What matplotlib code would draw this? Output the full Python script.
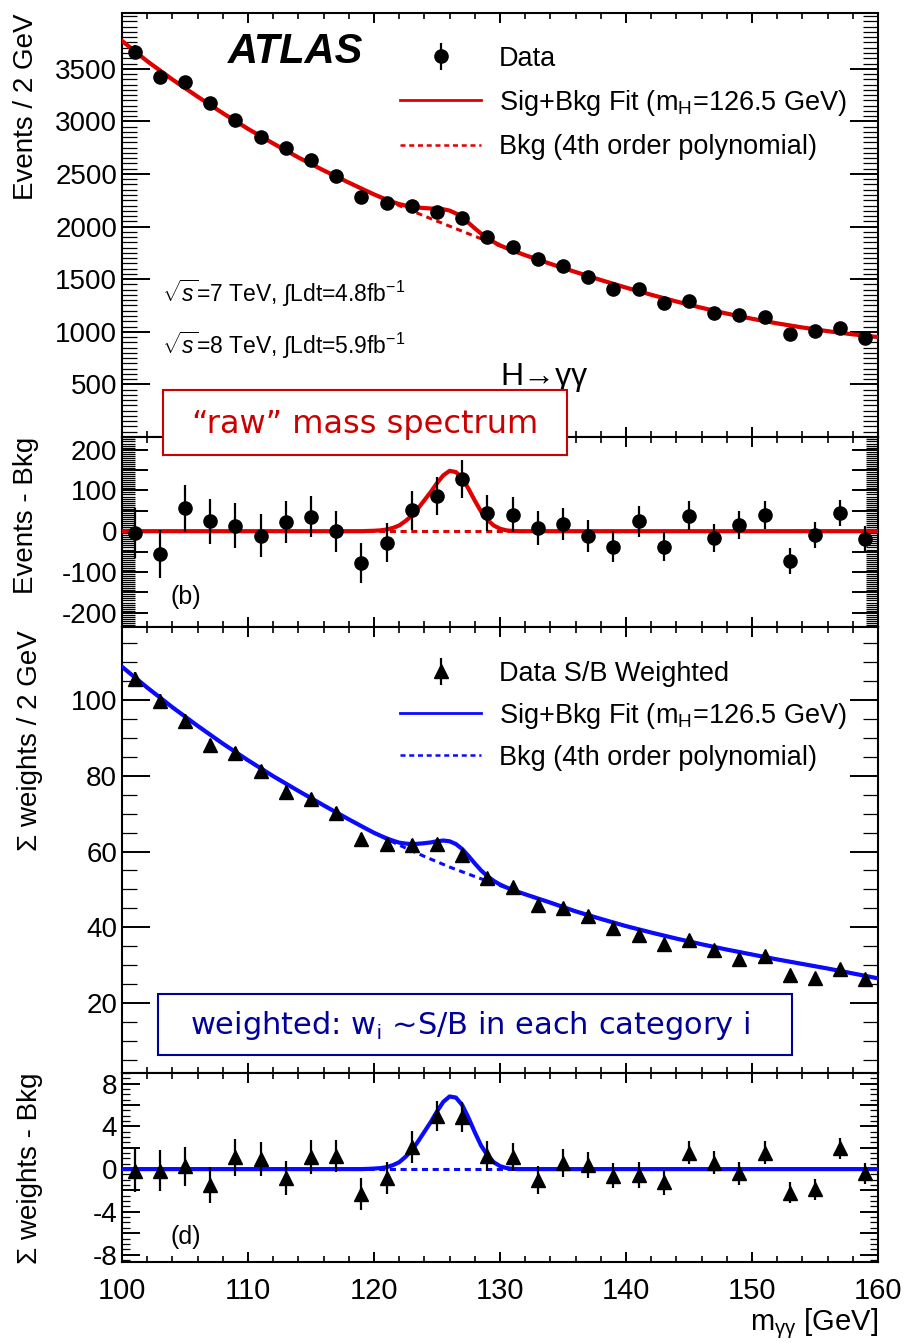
import numpy as np
import matplotlib
matplotlib.use('Agg')
import matplotlib.pyplot as plt
from matplotlib.lines import Line2D
from matplotlib.patches import Rectangle
from matplotlib.ticker import MultipleLocator, FixedLocator, FuncFormatter

plt.rcParams['font.family'] = ['Liberation Sans', 'DejaVu Sans']
plt.rcParams['mathtext.fontset'] = 'custom'
plt.rcParams['mathtext.rm'] = 'Liberation Sans'
plt.rcParams['mathtext.it'] = 'Liberation Sans:italic'
plt.rcParams['mathtext.bf'] = 'Liberation Sans:bold'
plt.rcParams['axes.unicode_minus'] = False

# ---- data ----
mass = [101, 103, 105, 107, 109, 111, 113, 115, 117, 119,
        121, 123, 125, 127, 129, 131, 133, 135, 137, 139,
        141, 143, 145, 147, 149, 151, 153, 155, 157, 159]

events = [3663, 3426, 3373, 3179, 3015, 2847, 2746, 2629, 2477, 2281,
          2224, 2199, 2139, 2082, 1902, 1807, 1693, 1623, 1518, 1408,
          1408, 1275, 1291, 1180, 1155, 1139, 975, 1006, 1038, 943]
events_err = [61, 59, 58, 56, 55, 53, 52, 51, 50, 48,
              47, 47, 46, 46, 44, 43, 41, 40, 39, 38,
              38, 36, 36, 34, 34, 34, 31, 32, 32, 31]
events_resid = [-5, -55, 56, 24, 13, -11, 23, 36, 0, -78,
                -28, 51, 86, 128, 44, 40, 8, 18, -11, -38,
                24, -38, 38, -16, 15, 40, -73, -10, 45, -18]

weighted = [105.5, 99.8, 94.5, 88.1, 85.9, 81.3, 75.8, 73.8, 70.2, 63.4,
            61.9, 61.7, 62.0, 59.0, 52.9, 50.5, 45.8, 45.2, 42.9, 39.7,
            37.9, 35.5, 36.6, 34.1, 31.7, 32.3, 27.3, 26.6, 29.1, 26.3]
weighted_err = [2.0, 1.9, 1.8, 1.7, 1.7, 1.6, 1.6, 1.6, 1.5, 1.5,
                1.5, 1.5, 1.4, 1.4, 1.4, 1.3, 1.3, 1.3, 1.2, 1.2,
                1.2, 1.2, 1.1, 1.1, 1.1, 1.1, 1.0, 1.0, 1.0, 1.0]
weighted_resid = [-0.15, -0.15, 0.25, -1.5, 1.1, 0.95, -0.8, 1.15, 1.2, -2.35,
                  -0.8, 2.05, 5.0, 4.9, 1.25, 1.1, -1.0, 0.55, 0.4, -0.6,
                  -0.55, -1.25, 1.55, 0.6, -0.4, 1.55, -2.2, -1.9, 1.95, -0.4]

# background fit curves (4th order polynomial), read every 2 GeV
bkg_x = [100, 102, 104, 106, 108, 110, 112, 114, 116, 118, 120,
         122, 124, 126, 128, 130, 132, 134, 136, 138, 140,
         142, 144, 146, 148, 150, 152, 154, 156, 158, 160]
bkg_events = [3765, 3572, 3398, 3235, 3078, 2929, 2790, 2657, 2534, 2418, 2305,
              2200, 2100, 2004, 1908, 1816, 1728, 1646, 1568, 1492, 1420,
              1352, 1288, 1228, 1173, 1124, 1080, 1041, 1006, 976, 950]
bkg_weighted = [108.8, 103.3, 98.1, 93.2, 88.5, 84.1, 79.9, 76.0, 72.2, 68.5, 64.9,
                61.7, 58.7, 55.9, 53.4, 51.0, 48.7, 46.5, 44.2, 42.2, 40.3,
                38.6, 37.0, 35.5, 34.1, 32.8, 31.5, 30.3, 29.1, 27.8, 26.5]

# signal component of the fit
sig_x = [100, 119.0, 119.5, 120.0, 120.5, 121.0, 121.5, 122.0, 122.5, 123.0,
         123.5, 124.0, 124.5, 125.0, 125.5, 126.0, 126.5, 127.0, 127.5, 128.0,
         128.5, 129.0, 129.5, 130.0, 130.5, 131.0, 131.5, 160]
sig_events = [0, 0, 0.5, 1, 2, 4, 8, 14, 25, 38,
              56, 76, 96, 118, 137, 148, 145, 130, 104, 75,
              48, 28, 14, 6, 2, 0.5, 0, 0]
sig_weighted = [0, 0, 0.02, 0.05, 0.09, 0.18, 0.37, 0.64, 1.15, 1.75,
                2.6, 3.5, 4.4, 5.4, 6.3, 6.8, 6.7, 6.0, 4.8, 3.45,
                2.2, 1.3, 0.65, 0.28, 0.1, 0.02, 0, 0]

RED = '#e00000'
BLUE = '#0a0aff'
W, H = 906, 1343
FS_TICK = 20
FS_LEG = 19.5


def rect(top, bottom):
    return [122 / W, 1 - bottom / H, 756 / W, (bottom - top) / H]


def style(ax, ymaj, ymin, maj_len, min_len, label_every=None, xlabels=False):
    ax.set_xlim(100, 160)
    ax.xaxis.set_major_locator(MultipleLocator(10))
    ax.xaxis.set_minor_locator(MultipleLocator(2))
    ax.yaxis.set_major_locator(ymaj)
    ax.yaxis.set_minor_locator(MultipleLocator(ymin))
    ax.tick_params(which='both', direction='in', top=True, right=True)
    ax.tick_params(axis='x', which='major', length=7.5, width=1.4)
    ax.tick_params(axis='x', which='minor', length=4, width=1.2)
    ax.tick_params(axis='y', which='major', length=maj_len, width=1.4,
                   labelsize=FS_TICK, pad=3.5)
    ax.tick_params(axis='y', which='minor', length=min_len, width=0.9)
    ax.tick_params(axis='x', labelsize=21, pad=11, labelbottom=xlabels)
    if label_every:
        ax.yaxis.set_major_formatter(FuncFormatter(
            lambda v, p: '%d' % round(v) if abs(v / label_every - round(v / label_every)) < 1e-6 else ''))
    for s in ax.spines.values():
        s.set_linewidth(1.5)


fig = plt.figure(figsize=(W / 100, H / 100), dpi=100)
ax_a = fig.add_axes(rect(13, 437))
ax_b = fig.add_axes(rect(437, 627))
ax_c = fig.add_axes(rect(627, 1073))
ax_d = fig.add_axes(rect(1073, 1262))

fit_x = np.union1d(bkg_x, sig_x)

# (a) raw spectrum
ax_a.plot(bkg_x, bkg_events, color=RED, lw=2.2, dashes=(2, 1.5), zorder=2)
ax_a.plot(fit_x, np.interp(fit_x, bkg_x, bkg_events) + np.interp(fit_x, sig_x, sig_events),
          color=RED, lw=3, zorder=3)
ax_a.errorbar(mass, events, yerr=events_err, fmt='o', color='black', ms=9.5,
              elinewidth=1.6, capsize=0, zorder=4)
ax_a.set_ylim(0, 4030)
style(ax_a, FixedLocator([500, 1000, 1500, 2000, 2500, 3000, 3500]), 50, 20, 11)

h_data = ax_a.errorbar([], [], yerr=[], fmt='o', color='black', ms=9.5,
                       elinewidth=1.6, capsize=0)
h_sb = Line2D([], [], color=RED, lw=2)
h_bkg = Line2D([], [], color=RED, lw=1.8, dashes=(2, 1.5))
ax_a.legend([h_data, h_sb, h_bkg],
            ['Data', 'Sig+Bkg Fit (m$_{\\rm H}$=126.5 GeV)', 'Bkg (4th order polynomial)'],
            loc='upper left', bbox_to_anchor=(0.368, 0.923), frameon=False,
            fontsize=FS_LEG, handlelength=3.0, handletextpad=0.65,
            labelspacing=0.6, borderpad=0, borderaxespad=0)

# (b) raw residuals
ax_b.axhline(0, color=RED, lw=2.2, dashes=(2, 1.5), zorder=2)
ax_b.plot(sig_x, sig_events, color=RED, lw=3, zorder=3)
ax_b.errorbar(mass, events_resid, yerr=events_err, fmt='o', color='black', ms=9.5,
              elinewidth=1.6, capsize=0, zorder=4)
ax_b.set_ylim(-235, 231)
style(ax_b, MultipleLocator(50), 5, 19, 9, label_every=100)

# (c) weighted spectrum
ax_c.plot(bkg_x, bkg_weighted, color=BLUE, lw=2.2, dashes=(2, 1.5), zorder=2)
ax_c.plot(fit_x, np.interp(fit_x, bkg_x, bkg_weighted) + np.interp(fit_x, sig_x, sig_weighted),
          color=BLUE, lw=3, zorder=3)
ax_c.errorbar(mass, weighted, yerr=weighted_err, fmt='^', color='black', ms=9.5,
              elinewidth=1.6, capsize=0, zorder=4)
ax_c.set_ylim(1.5, 119.3)
style(ax_c, FixedLocator([20, 40, 60, 80, 100]), 5, 20, 11)

h_wdata = ax_c.errorbar([], [], yerr=[], fmt='^', color='black', ms=9.5,
                        elinewidth=1.6, capsize=0)
h_wsb = Line2D([], [], color=BLUE, lw=2)
h_wbkg = Line2D([], [], color=BLUE, lw=1.8, dashes=(2, 1.5))
ax_c.legend([h_wdata, h_wsb, h_wbkg],
            ['Data S/B Weighted', 'Sig+Bkg Fit (m$_{\\rm H}$=126.5 GeV)', 'Bkg (4th order polynomial)'],
            loc='upper left', bbox_to_anchor=(0.368, 0.924), frameon=False,
            fontsize=FS_LEG, handlelength=3.0, handletextpad=0.65,
            labelspacing=0.51, borderpad=0, borderaxespad=0)

# (d) weighted residuals
ax_d.axhline(0, color=BLUE, lw=2.2, dashes=(2, 1.5), zorder=2)
ax_d.plot(sig_x, sig_weighted, color=BLUE, lw=3, zorder=3)
ax_d.errorbar(mass, weighted_resid, yerr=weighted_err, fmt='^', color='black', ms=9.5,
              elinewidth=1.6, capsize=0, zorder=4)
ax_d.set_ylim(-8.7, 9.0)
style(ax_d, MultipleLocator(2), 0.5, 13, 6, label_every=4, xlabels=True)

# axis titles
fig.text(26 / W, 1 - 13 / H, 'Events / 2 GeV', rotation=90, ha='center', va='top', fontsize=20)
fig.text(26 / W, 1 - 437 / H, 'Events - Bkg', rotation=90, ha='center', va='top', fontsize=20)
fig.text(30 / W, 1 - 630 / H, 'Σ weights / 2 GeV', rotation=90, ha='center', va='top', fontsize=20)
fig.text(30 / W, 1 - 1073 / H, 'Σ weights - Bkg', rotation=90, ha='center', va='top', fontsize=20)
fig.text(878 / W, 1 - 1324 / H, 'm$_{\\rm \\gamma\\gamma}$ [GeV]', ha='right', va='center', fontsize=21)

# in-plot labels
fig.text(228 / W, 1 - 52 / H, 'ATLAS', fontsize=30, weight='bold', style='italic', va='center')
fig.text(162 / W, 1 - 293 / H, '$\\sqrt{s}$=7 TeV, $\\int$Ldt=4.8fb$^{-1}$', fontsize=16.5, va='center')
fig.text(162 / W, 1 - 345 / H, '$\\sqrt{s}$=8 TeV, $\\int$Ldt=5.9fb$^{-1}$', fontsize=16.5, va='center')
fig.text(500 / W, 1 - 377 / H, 'H→γγ', fontsize=23, va='center')
fig.text(170 / W, 1 - 597 / H, '(b)', fontsize=18, va='center')
fig.text(170 / W, 1 - 1237 / H, '(d)', fontsize=18, va='center')

# annotation boxes
fig.add_artist(Rectangle((163 / W, 1 - 455 / H), 404 / W, 65 / H, transform=fig.transFigure,
                         facecolor='white', edgecolor='#cc0000', lw=1.5, zorder=10))
fig.text(365 / W, 1 - 425 / H, '“raw” mass spectrum', color='#cc0000', fontsize=23,
         family='DejaVu Sans', ha='center', va='center', zorder=11)
fig.add_artist(Rectangle((158 / W, 1 - 1055 / H), 634 / W, 61 / H, transform=fig.transFigure,
                         facecolor='white', edgecolor='#00009a', lw=1.5, zorder=10))
fig.text(470 / W, 1 - 1025 / H, 'weighted: w$_{\\rm i}$ ~S/B in each category i', color='#00009a',
         fontsize=22, family='DejaVu Sans', ha='center', va='center', zorder=11)

fig.savefig('out.png', dpi=100)
